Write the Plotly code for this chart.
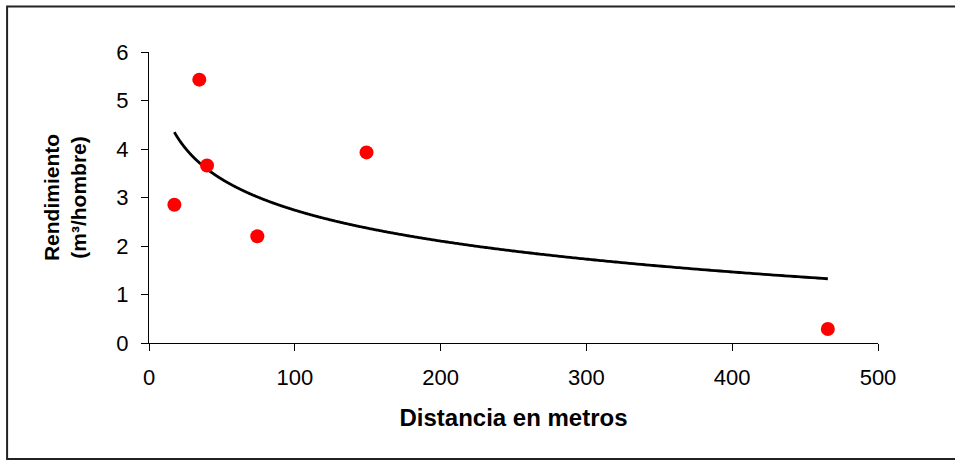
import numpy as np
import plotly.graph_objects as go

# Data
distancia = [17.4, 34.5, 39.8, 74.3, 149.2, 465.6]
rendimiento = [2.85, 5.43, 3.66, 2.20, 3.93, 0.29]

x_ticks = [0, 100, 200, 300, 400, 500]
y_ticks = [0, 1, 2, 3, 4, 5, 6]

# Logarithmic trend line (least squares y = a + b ln x)
b, a = np.polyfit(np.log(distancia), rendimiento, 1)
xt = np.geomspace(min(distancia), max(distancia), 400)
yt = a + b * np.log(xt)

FONT = "Arial, Liberation Sans, sans-serif"

W, Hh = 955, 461
ml, mr, mt, mb = 148.5, 77, 52, 117.7
pw, ph = W - ml - mr, Hh - mt - mb

fig = go.Figure()
fig.add_trace(go.Scatter(x=xt, y=yt, mode="lines",
                         line=dict(color="black", width=2.8, shape="spline"),
                         hoverinfo="skip", showlegend=False))
fig.add_trace(go.Scatter(x=distancia, y=rendimiento, mode="markers",
                         marker=dict(color="#FF0000", size=14, line=dict(width=0)),
                         showlegend=False))

def px_x(p):
    return (p - ml) / pw

def px_y(p):
    return (Hh - mb - p) / ph

fig.add_shape(type="rect", xref="paper", yref="paper",
              x0=px_x(6.5), x1=px_x(960), y0=px_y(459.5), y1=px_y(6.5),
              line=dict(color="#222222", width=2), fillcolor="rgba(0,0,0,0)",
              layer="below")

fig.update_layout(
    width=W, height=Hh,
    margin=dict(l=ml, r=mr, t=mt, b=mb, pad=0),
    paper_bgcolor="white", plot_bgcolor="white",
    font=dict(family=FONT, color="black"),
    xaxis=dict(range=[0, 500], tickvals=x_ticks, showgrid=False, zeroline=False,
               showline=True, linecolor="black", linewidth=1,
               ticks="outside", ticklen=7, tickcolor="black", tickwidth=1,
               tickfont=dict(size=22, family=FONT), ticklabelstandoff=8,
               title=dict(text="<b>Distancia en metros</b>", font=dict(size=24, family=FONT),
                          standoff=19)),
    yaxis=dict(range=[0, 6], tickvals=y_ticks, showgrid=False, zeroline=False,
               showline=True, linecolor="black", linewidth=1,
               ticks="outside", ticklen=7, tickcolor="black", tickwidth=1,
               tickfont=dict(size=22, family=FONT), ticklabelstandoff=8,
               title=dict(text="<b>Rendimiento<br>(m³/hombre)</b>", font=dict(size=21, family=FONT),
                          standoff=23)),
)

fig.write_html("out.html", config={"displayModeBar": False},
               post_script="document.body.style.margin='0';")
